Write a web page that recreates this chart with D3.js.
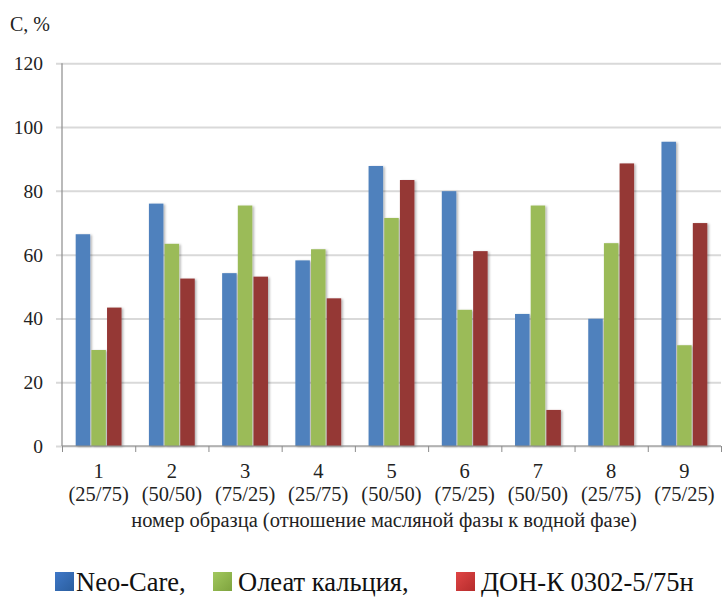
<!DOCTYPE html>
<html>
<head>
<meta charset="utf-8">
<script src="https://cdn.jsdelivr.net/npm/d3@7"></script>
</head>
<body style="margin:0">
<svg id="chart" width="727" height="599"></svg>
<script>
// Sample numbers and oil/water phase ratios
const sampleNumbers = ["1", "2", "3", "4", "5", "6", "7", "8", "9"];
const phaseRatios = ["(25/75)", "(50/50)", "(75/25)", "(25/75)", "(50/50)", "(75/25)", "(50/50)", "(25/75)", "(75/25)"];

// Emulsifier series
const seriesNames = ["Neo-Care,", "Олеат кальция,", "ДОН-К 0302-5/75н"];
const neoCare      = [66.4, 76.0, 54.2, 58.2, 87.8, 79.9, 41.4, 39.9, 95.4];
const oleatCalcium = [30.1, 63.4, 75.4, 61.7, 71.5, 42.7, 75.4, 63.6, 31.6];
const donK         = [43.4, 52.5, 53.1, 46.3, 83.4, 61.1, 11.3, 88.6, 69.9];

const yTicks = [0, 20, 40, 60, 80, 100, 120];
const yTitle = "С, %";
const xTitle = "номер образца (отношение масляной фазы к водной фазе)";

const barColors = ["#4F81BD", "#9BBB59", "#953735"];
const legendStops = [["#3F78C8", "#2B5E9E"], ["#A2C85E", "#7EA33E"], ["#E04545", "#B52C2C"]];

const values = [neoCare, oleatCalcium, donK];

// Serif text style used everywhere
const textStyle = size => `font-family: 'Liberation Serif', 'Times New Roman', monospace; font-size: ${size}px;`;

const svg = d3.select("#chart");
const plotLeft = 62, plotTop = 63.3, plotRight = 721, plotBottom = 446;

const defs = svg.append("defs");
const shadow = defs.append("filter").attr("id", "barShadow")
  .attr("x", "-20%").attr("y", "-5%").attr("width", "150%").attr("height", "115%");
shadow.append("feDropShadow").attr("dx", 1.6).attr("dy", 0.8)
  .attr("stdDeviation", 1.1).attr("flood-color", "#000").attr("flood-opacity", 0.3);

legendStops.forEach((s, i) => {
  const g = defs.append("linearGradient").attr("id", "lg" + i)
    .attr("x1", 0).attr("y1", 0).attr("x2", 1).attr("y2", 1);
  g.append("stop").attr("offset", "0%").attr("stop-color", s[0]);
  g.append("stop").attr("offset", "100%").attr("stop-color", s[1]);
});

const idx = sampleNumbers.map((d, i) => i);
const x0 = d3.scaleBand().domain(idx).range([plotLeft, plotRight]).padding(0);
const bw = x0.bandwidth();
const x1 = d3.scaleBand().domain([0, 1, 2])
  .range([bw * 0.187, bw * 0.813]).paddingInner(0.075);
const y = d3.scaleLinear().domain([0, 120]).range([plotBottom, plotTop]);

// Horizontal gridlines with short tick stubs on the left
const yAxis = d3.axisLeft(y).tickValues(yTicks).tickSize(-(plotRight - plotLeft)).tickSizeOuter(0).tickPadding(19);
const yg = svg.append("g").attr("transform", `translate(${plotLeft},0)`).call(yAxis)
  .attr("font-family", null).attr("font-size", null);
yg.select(".domain").remove();
yg.selectAll(".tick line").attr("stroke", "#d9d9d9").attr("stroke-width", 2).attr("x1", -6);
yg.selectAll(".tick text").attr("style", textStyle(19.5))
  .attr("fill", "#222").attr("dy", "0.33em");

// Bars
const groups = svg.append("g").selectAll("g").data(idx).join("g")
  .attr("transform", i => `translate(${x0(i)},0)`);
groups.selectAll("rect")
  .data(i => values.map((arr, s) => ({ s, v: arr[i] })))
  .join("rect")
  .attr("x", d => x1(d.s))
  .attr("width", x1.bandwidth())
  .attr("y", d => y(d.v))
  .attr("height", d => plotBottom - y(d.v))
  .attr("fill", d => barColors[d.s])
  .attr("filter", "url(#barShadow)");

// Vertical axis line
svg.append("line").attr("x1", plotLeft).attr("x2", plotLeft)
  .attr("y1", plotTop).attr("y2", plotBottom)
  .attr("stroke", "#8c8c8c").attr("stroke-width", 1.2);

// Category axis with ticks between groups
const xb = d3.scaleLinear().domain([0, sampleNumbers.length]).range([plotLeft, plotRight]);
const xAxis = d3.axisBottom(xb).tickValues(d3.range(0, sampleNumbers.length + 1)).tickSize(6).tickFormat("");
const xg = svg.append("g").attr("transform", `translate(0,${plotBottom})`).call(xAxis);
xg.select(".domain").attr("stroke", "#8c8c8c").attr("stroke-width", 1.2)
  .attr("d", `M${plotLeft},0H${plotRight}`);
xg.selectAll(".tick line").attr("stroke", "#8c8c8c");

// Category labels (two lines each)
const labelG = svg.append("g");
idx.forEach(i => {
  labelG.append("text").attr("x", x0(i) + bw / 2).attr("y", 478)
    .attr("text-anchor", "middle").attr("style", textStyle(20.5))
    .attr("fill", "#222").text(sampleNumbers[i]);
  labelG.append("text").attr("x", x0(i) + bw / 2).attr("y", 501)
    .attr("text-anchor", "middle").attr("style", textStyle(20.5))
    .attr("fill", "#222").text(phaseRatios[i]);
});

// Axis titles
svg.append("text").attr("x", 10).attr("y", 31)
  .attr("style", textStyle(20)).attr("fill", "#222").text(yTitle);
svg.append("text").attr("x", 384).attr("y", 527).attr("text-anchor", "middle")
  .attr("style", textStyle(20.5)).attr("fill", "#222").text(xTitle);

// Legend
const legendX = [55, 213, 456];
const lg = svg.append("g").selectAll("g").data(idx.slice(0, 3)).join("g")
  .attr("transform", i => `translate(${legendX[i]},572)`);
lg.append("rect").attr("width", 19).attr("height", 19).attr("fill", i => `url(#lg${i})`);
lg.append("text").attr("x", i => i === 0 ? 21 : 25).attr("y", 18.5)
  .attr("style", textStyle(26.5))
  .attr("fill", "#111").text(i => seriesNames[i]);
</script>
</body>
</html>
